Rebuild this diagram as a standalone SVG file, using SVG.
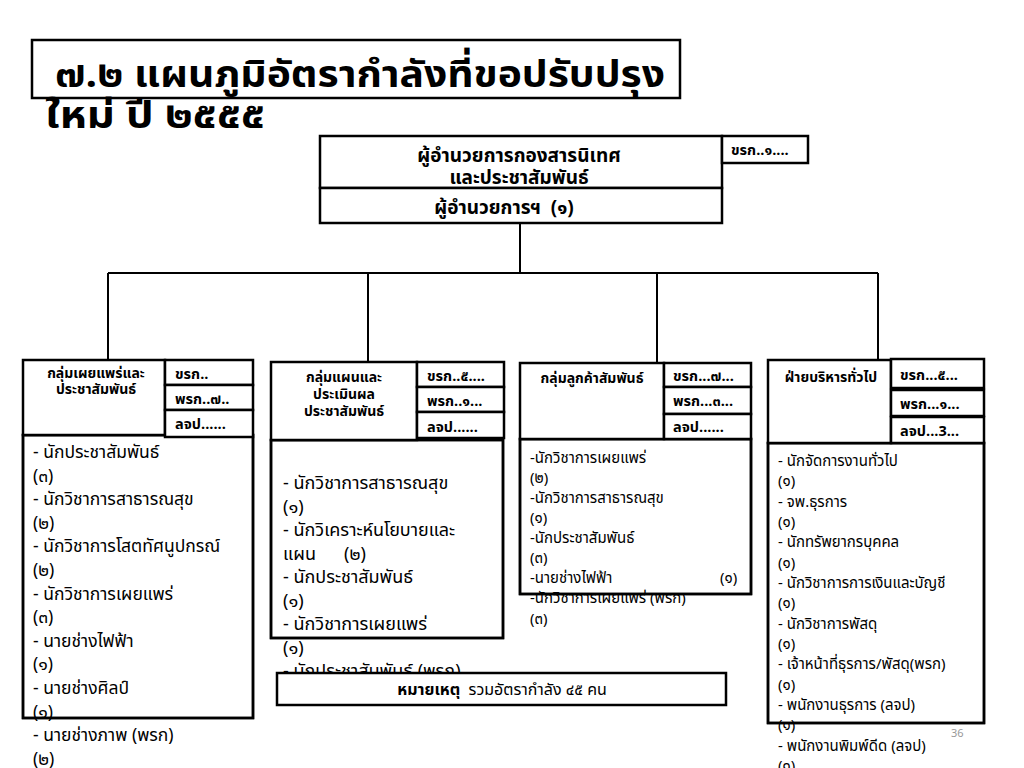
<svg xmlns="http://www.w3.org/2000/svg" width="1024" height="768" viewBox="0 0 1024 768">
<style>
text{font-family:"Noto Sans Thai","Tahoma","Leelawadee UI","Noto Sans","DejaVu Sans",sans-serif;fill:#000;white-space:pre}
.box{fill:#fff;stroke:#000;stroke-width:2.5}
.ol{fill:none;stroke:#000;stroke-width:2.5}
.con{fill:none;stroke:#000;stroke-width:2}
.title{font-size:38px;font-weight:bold}
.hd{font-size:14px;font-weight:bold;text-anchor:middle}
.sm{font-size:14.5px;font-weight:bold}
.top{font-size:19px;font-weight:bold;text-anchor:middle}
.b1{font-size:17.5px}
.b2{font-size:18px}
.b14{font-size:15px}
.note{font-size:16px;text-anchor:middle}
</style>
<rect width="1024" height="768" fill="#fff"/>

<g id="title">
<rect class="box" x="32" y="40" width="648" height="58"/>
<text class="title" x="55" y="87" textLength="610" lengthAdjust="spacingAndGlyphs">๗.๒ แผนภูมิอัตรากำลังที่ขอปรับปรุง</text>
<text class="title" x="45" y="128" textLength="220" lengthAdjust="spacingAndGlyphs">ใหม่ ปี ๒๕๕๕</text>
</g>

<g id="connectors">
<path class="con" d="M520 223 V273 M108 273 H878 M108 273 V360 M368 273 V362 M657 273 V363 M878 273 V360"/>
</g>

<g id="director">
<rect class="box" x="320" y="136" width="402" height="52"/>
<rect class="box" x="320" y="188" width="402" height="35"/>
<rect class="box" x="722" y="136" width="86" height="27"/>
<text class="top" x="519" y="162">ผู้อำนวยการกองสารนิเทศ</text>
<text class="top" x="519" y="184">และประชาสัมพันธ์</text>
<text class="top" x="504" y="214">ผู้อำนวยการฯ  (๑)</text>
<text class="sm" x="731" y="155">ขรก..๑....</text>
</g>

<g id="group1">
<rect class="box" x="23" y="435" width="230" height="283"/>
<text class="b1"><tspan x="33" y="458">- นักประชาสัมพันธ์</tspan><tspan x="33" y="481.6">(๓)</tspan><tspan x="33" y="505.2">- นักวิชาการสาธารณสุข</tspan><tspan x="33" y="528.8">(๒)</tspan><tspan x="33" y="552.4">- นักวิชาการโสตทัศนูปกรณ์</tspan><tspan x="33" y="576">(๒)</tspan><tspan x="33" y="599.6">- นักวิชาการเผยแพร่</tspan><tspan x="33" y="623.2">(๓)</tspan><tspan x="33" y="646.8">- นายช่างไฟฟ้า</tspan><tspan x="33" y="670.4">(๑)</tspan><tspan x="33" y="694">- นายช่างศิลป์</tspan><tspan x="33" y="717.6">(๑)</tspan><tspan x="33" y="741.2">- นายช่างภาพ (พรก)</tspan><tspan x="33" y="764.8">(๒)</tspan></text>
<rect class="ol" x="23" y="435" width="230" height="283"/>
<rect class="box" x="23" y="360" width="142" height="75"/>
<rect class="box" x="165" y="360" width="88" height="25"/>
<rect class="box" x="165" y="385" width="88" height="25"/>
<rect class="box" x="165" y="410" width="88" height="27"/>
<text class="hd" x="96" y="378">กลุ่มเผยแพร่และ</text>
<text class="hd" x="96" y="394">ประชาสัมพันธ์</text>
<text class="sm" x="175" y="379">ขรก..</text>
<text class="sm" x="175" y="404">พรก..๗..</text>
<text class="sm" x="175" y="429">ลจป......</text>
</g>

<g id="group2">
<rect class="box" x="271" y="440" width="232" height="198"/>
<text class="b2"><tspan x="283" y="489">- นักวิชาการสาธารณสุข</tspan><tspan x="283" y="512.5">(๑)</tspan><tspan x="283" y="536">- นักวิเคราะห์นโยบายและ</tspan><tspan x="283" y="559.5">แผน      (๒)</tspan><tspan x="283" y="583">- นักประชาสัมพันธ์</tspan><tspan x="283" y="606.5">(๑)</tspan><tspan x="283" y="630">- นักวิชาการเผยแพร่</tspan><tspan x="283" y="653.5">(๑)</tspan><tspan x="283" y="677">- นักประชาสัมพันธ์ (พรก)</tspan></text>
<rect class="ol" x="271" y="440" width="232" height="198"/>
<rect class="box" x="271" y="362" width="146" height="78"/>
<rect class="box" x="417" y="362" width="87" height="25"/>
<rect class="box" x="417" y="387" width="87" height="25"/>
<rect class="box" x="417" y="412" width="87" height="26"/>
<text class="hd" x="344" y="382">กลุ่มแผนและ</text>
<text class="hd" x="344" y="399">ประเมินผล</text>
<text class="hd" x="344" y="416">ประชาสัมพันธ์</text>
<text class="sm" x="427" y="381">ขรก..๕....</text>
<text class="sm" x="427" y="406">พรก..๑...</text>
<text class="sm" x="427" y="432">ลจป......</text>
</g>

<g id="group3">
<rect class="box" x="520" y="439" width="231" height="155"/>
<text class="b14"><tspan x="530" y="463">-นักวิชาการเผยแพร่</tspan><tspan x="530" y="483">(๒)</tspan><tspan x="530" y="503">-นักวิชาการสาธารณสุข</tspan><tspan x="530" y="523">(๑)</tspan><tspan x="530" y="543">-นักประชาสัมพันธ์</tspan><tspan x="530" y="563">(๓)</tspan><tspan x="530" y="583">-นายช่างไฟฟ้า</tspan><tspan x="530" y="603">-นักวิชาการเผยแพร่ (พรก)</tspan><tspan x="530" y="624">(๓)</tspan></text>
<text class="b14" x="720" y="583">(๑)</text>
<rect class="ol" x="520" y="439" width="231" height="155"/>
<rect class="box" x="520" y="363" width="144" height="76"/>
<rect class="box" x="664" y="363" width="87" height="24"/>
<rect class="box" x="664" y="387" width="87" height="27"/>
<rect class="box" x="664" y="414" width="87" height="25"/>
<text class="hd" x="592" y="383">กลุ่มลูกค้าสัมพันธ์</text>
<text class="sm" x="673" y="381">ขรก...๗...</text>
<text class="sm" x="673" y="406">พรก...๓...</text>
<text class="sm" x="673" y="432">ลจป......</text>
</g>

<g id="group4">
<rect class="box" x="768" y="443" width="216" height="280"/>
<text class="b14"><tspan x="778" y="466">- นักจัดการงานทั่วไป</tspan><tspan x="778" y="486.3">(๑)</tspan><tspan x="778" y="506.7">- จพ.ธุรการ</tspan><tspan x="778" y="527">(๑)</tspan><tspan x="778" y="547.3">- นักทรัพยากรบุคคล</tspan><tspan x="778" y="567.7">(๑)</tspan><tspan x="778" y="588">- นักวิชาการการเงินและบัญชี</tspan><tspan x="778" y="608.3">(๑)</tspan><tspan x="778" y="628.7">- นักวิชาการพัสดุ</tspan><tspan x="778" y="649">(๑)</tspan><tspan x="778" y="669.3">- เจ้าหน้าที่ธุรการ/พัสดุ(พรก)</tspan><tspan x="778" y="689.7">(๑)</tspan><tspan x="778" y="710">- พนักงานธุรการ (ลจป)</tspan><tspan x="778" y="730.3">(๑)</tspan><tspan x="778" y="750.7">- พนักงานพิมพ์ดีด (ลจป)</tspan><tspan x="778" y="771">(๑)</tspan></text>
<rect class="ol" x="768" y="443" width="216" height="280"/>
<rect class="box" x="768" y="360" width="123" height="83"/>
<rect class="box" x="891" y="359" width="93" height="29"/>
<rect class="box" x="891" y="390" width="93" height="26"/>
<rect class="box" x="891" y="417" width="93" height="26"/>
<text class="hd" x="831" y="382">ฝ่ายบริหารทั่วไป</text>
<text class="sm" x="900" y="380">ขรก...๕...</text>
<text class="sm" x="900" y="409">พรก...๑...</text>
<text class="sm" x="900" y="436">ลจป...3...</text>
</g>

<g id="note">
<rect class="box" x="277" y="673" width="449" height="32"/>
<text class="note" x="502" y="695"><tspan font-weight="bold">หมายเหตุ</tspan>  รวมอัตรากำลัง ๔๕ คน</text>
</g>

<text x="951" y="737" style="font-size:11px;fill:#999">36</text>
</svg>
